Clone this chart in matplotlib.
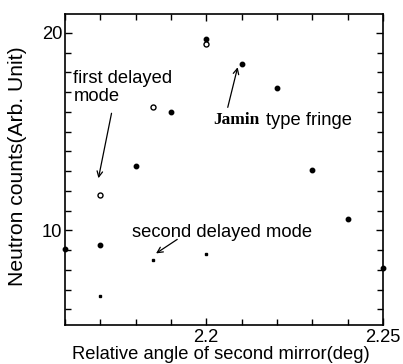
import matplotlib
matplotlib.use("Agg")
import matplotlib.pyplot as plt
import numpy as np

plt.rcParams['font.family'] = ['Liberation Sans', 'DejaVu Sans']

# Jamin type fringe (filled dots)
jamin_x = [2.16, 2.17, 2.18, 2.19, 2.20, 2.21, 2.22, 2.23, 2.24, 2.25]
jamin_y = [9.04, 9.24, 13.26, 16.0, 19.68, 18.45, 17.21, 13.04, 10.59, 8.11]
# first delayed mode (open circles)
first_x = [2.17, 2.185, 2.20]
first_y = [11.81, 16.25, 19.46]
# second delayed mode (small marks)
second_x = [2.17, 2.185, 2.20]
second_y = [6.65, 8.51, 8.82]

xtick_labels = {2.2: "2.2", 2.25: "2.25"}
ytick_labels = [10, 20]

FS = 13.2

fig = plt.figure(figsize=(4.03, 3.64), dpi=100)
ax = fig.add_axes([0.161, 0.107, 0.789, 0.854])

ax.plot(jamin_x, jamin_y, 'o', color='black', ms=3.2, clip_on=False, zorder=3)
ax.plot(first_x, first_y, 'o', mfc='white', mec='black', mew=1.0, ms=3.6, zorder=3)
ax.plot(second_x, second_y, 's', color='black', ms=1.6, zorder=3)

ax.set_xlim(2.16, 2.25)
ax.set_ylim(5.2, 20.95)

ax.set_xticks(list(xtick_labels.keys()))
ax.set_xticklabels(list(xtick_labels.values()))
ax.set_xticks(np.arange(2.16, 2.2501, 0.01), minor=True)
ax.set_yticks(ytick_labels)
ax.set_yticks(np.arange(6, 21, 1), minor=True)

ax.tick_params(which='both', direction='in', top=True, right=True, width=1.0)
ax.tick_params(which='major', length=5, labelsize=FS)
ax.tick_params(axis='x', which='major', pad=3)
ax.tick_params(axis='y', which='major', pad=2)
ax.tick_params(which='minor', length=4)
for s in ax.spines.values():
    s.set_linewidth(1.2)

ax.set_xlabel("Relative angle of second mirror(deg)", fontsize=FS)
ax.xaxis.set_label_coords(0.49, -0.068)
ax.set_ylabel("Neutron counts(Arb. Unit)", fontsize=15.2)
ax.yaxis.set_label_coords(-0.12, 0.51)

arrowprops = dict(arrowstyle='->', color='black', lw=0.9, mutation_scale=10, shrinkA=0, shrinkB=0)

ax.text(2.1624, 18.11, "first delayed\nmode", fontsize=FS, va='top', ha='left', linespacing=1.05)
ax.annotate("", xy=(2.1695, 12.64), xytext=(2.1732, 15.93), arrowprops=arrowprops)

ax.text(2.2021, 15.58, "Jamin", fontsize=12.5, va='center', ha='left', fontweight='bold',
        family=['Liberation Serif', 'DejaVu Serif'])
ax.text(2.2169, 15.58, "type fringe", fontsize=FS, va='center', ha='left')
ax.annotate("", xy=(2.2089, 18.26), xytext=(2.2061, 16.23), arrowprops=arrowprops)

ax.text(2.1789, 9.91, "second delayed mode", fontsize=FS, va='center', ha='left')
ax.annotate("", xy=(2.1858, 8.83), xytext=(2.1918, 9.54), arrowprops=arrowprops)

fig.savefig("out.png", dpi=100)
